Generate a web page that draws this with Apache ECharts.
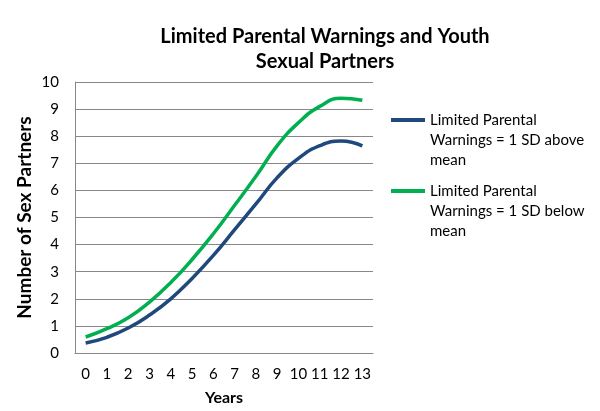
<!DOCTYPE html>
<html>
<head>
<meta charset="utf-8">
<script src="https://cdn.jsdelivr.net/npm/echarts@6/dist/echarts.min.js"></script>
<style>html,body{margin:0;padding:0;background:#fff}#c{width:600px;height:411px}</style>
</head>
<body>
<div id="c"></div>
<script>
const years = ['0','1','2','3','4','5','6','7','8','9','10','11','12','13'];
const seriesNames = ['Limited Parental\nWarnings = 1 SD above\nmean', 'Limited Parental\nWarnings = 1 SD below\nmean'];
const aboveMean = [0.37, 0.58, 0.92, 1.4, 2.0, 2.75, 3.6, 4.55, 5.5, 6.47, 7.18, 7.65, 7.82, 7.64];
const belowMean = [0.59, 0.9, 1.3, 1.88, 2.6, 3.45, 4.4, 5.45, 6.52, 7.65, 8.5, 9.1, 9.4, 9.33];
const yTicks = [0, 10, 1];
const titleText = 'Limited Parental Warnings and Youth\nSexual Partners';

const FONT = 'Lato, "Open Sans", sans-serif';
const chart = echarts.init(document.getElementById('c'), null, {renderer: 'canvas'});
const legendBase = {
  orient: 'vertical', left: 386, itemWidth: 34, itemHeight: 4, itemGap: 0,
  formatter: function (n) { return '\n\n' + n; },
  textStyle: {fontFamily: FONT, fontSize: 15, color: '#000', lineHeight: 20},
  icon: 'rect', itemStyle: {borderWidth: 0}
};
chart.setOption({
  animation: false,
  title: {
    text: titleText, left: 320, textAlign: 'center', top: 19,
    textStyle: {fontFamily: FONT, fontSize: 20, fontWeight: 'bold', color: '#000', lineHeight: 25}
  },
  legend: [
    Object.assign({}, legendBase, {top: 65, data: [seriesNames[0]]}),
    Object.assign({}, legendBase, {top: 136, data: [seriesNames[1]]})
  ],
  grid: {left: 75, right: 227, top: 82, bottom: 58, containLabel: false},
  xAxis: {
    type: 'category', data: years, boundaryGap: true,
    name: 'Years', nameLocation: 'middle', nameGap: 37,
    nameTextStyle: {fontFamily: FONT, fontSize: 16, fontWeight: 'bold', color: '#000'},
    axisLine: {lineStyle: {color: '#888', width: 1}},
    axisTick: {show: false},
    axisLabel: {fontFamily: FONT, fontSize: 15, color: '#000', margin: 14, interval: 0}
  },
  yAxis: {
    type: 'value', min: yTicks[0], max: yTicks[1], interval: yTicks[2],
    name: 'Number of Sex Partners', nameLocation: 'middle', nameGap: 41,
    nameTextStyle: {fontFamily: FONT, fontSize: 19, fontWeight: 'bold', color: '#000'},
    axisLine: {show: true, lineStyle: {color: '#888', width: 1}},
    axisTick: {show: false},
    splitLine: {lineStyle: {color: '#888', width: 1}},
    axisLabel: {fontFamily: FONT, fontSize: 15, color: '#000', margin: 16}
  },
  series: [
    {name: seriesNames[0], type: 'line', data: aboveMean, smooth: true, symbol: 'none',
     lineStyle: {color: '#1f497d', width: 3.5}, itemStyle: {color: '#1f497d'}},
    {name: seriesNames[1], type: 'line', data: belowMean, smooth: true, symbol: 'none',
     lineStyle: {color: '#00b050', width: 3.5}, itemStyle: {color: '#00b050'}}
  ]
});
</script>
</body>
</html>
